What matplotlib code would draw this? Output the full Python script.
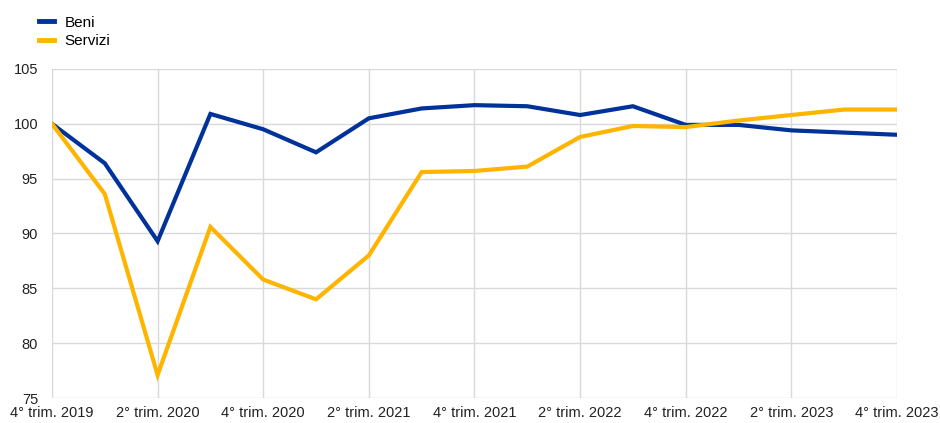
import numpy as np
import matplotlib
matplotlib.use('Agg')
from matplotlib import pyplot as plt
from matplotlib.lines import Line2D

plt.rcParams['font.family'] = ['Liberation Sans', 'DejaVu Sans']

# quarters from 4° trim. 2019 to 4° trim. 2023
quarters = ['4° trim. 2019', '1° trim. 2020', '2° trim. 2020', '3° trim. 2020',
            '4° trim. 2020', '1° trim. 2021', '2° trim. 2021', '3° trim. 2021',
            '4° trim. 2021', '1° trim. 2022', '2° trim. 2022', '3° trim. 2022',
            '4° trim. 2022', '1° trim. 2023', '2° trim. 2023', '3° trim. 2023',
            '4° trim. 2023']
beni = [100.0, 96.4, 89.3, 100.9, 99.5, 97.4, 100.5, 101.4, 101.7, 101.6,
        100.8, 101.6, 99.9, 99.9, 99.4, 99.2, 99.0]
servizi = [100.0, 93.6, 77.1, 90.6, 85.8, 84.0, 88.0, 95.6, 95.7, 96.1,
           98.8, 99.8, 99.7, 100.3, 100.8, 101.3, 101.3]
yticks = [75, 80, 85, 90, 95, 100, 105]

blue = '#003299'
yellow = '#FFB400'

fig = plt.figure(figsize=(9.4, 4.23), dpi=100)
ax = fig.add_axes([0.0553, 0.059, 0.8989, 0.778])

x = np.arange(len(quarters))
ax.plot(x, beni, color=blue, lw=3, solid_joinstyle='miter', zorder=3)
ax.plot(x, servizi, color=yellow, lw=3, solid_joinstyle='miter', zorder=3)

ax.set_xlim(0, len(quarters) - 1)
ax.set_ylim(75, 105)
ax.set_yticks(yticks)
ax.set_xticks(x[::2])
ax.set_xticklabels(quarters[::2])
ax.grid(True, color='#d9d9d9', lw=1)
ax.set_axisbelow(True)
for s in ax.spines.values():
    s.set_visible(False)
ax.tick_params(length=0, labelsize=10.5, colors='#222222')
ax.tick_params(axis='y', pad=10)
ax.tick_params(axis='x', pad=6)

handles = [Line2D([], [], color=blue, lw=3.5), Line2D([], [], color=yellow, lw=3.5)]
fig.legend(handles, ['Beni', 'Servizi'], loc='upper left', bbox_to_anchor=(0.041, 0.963),
           frameon=False, fontsize=11, handlelength=1.0, handletextpad=0.7,
           labelspacing=0.3, borderpad=0, borderaxespad=0)

fig.savefig('out.png', dpi=100)
